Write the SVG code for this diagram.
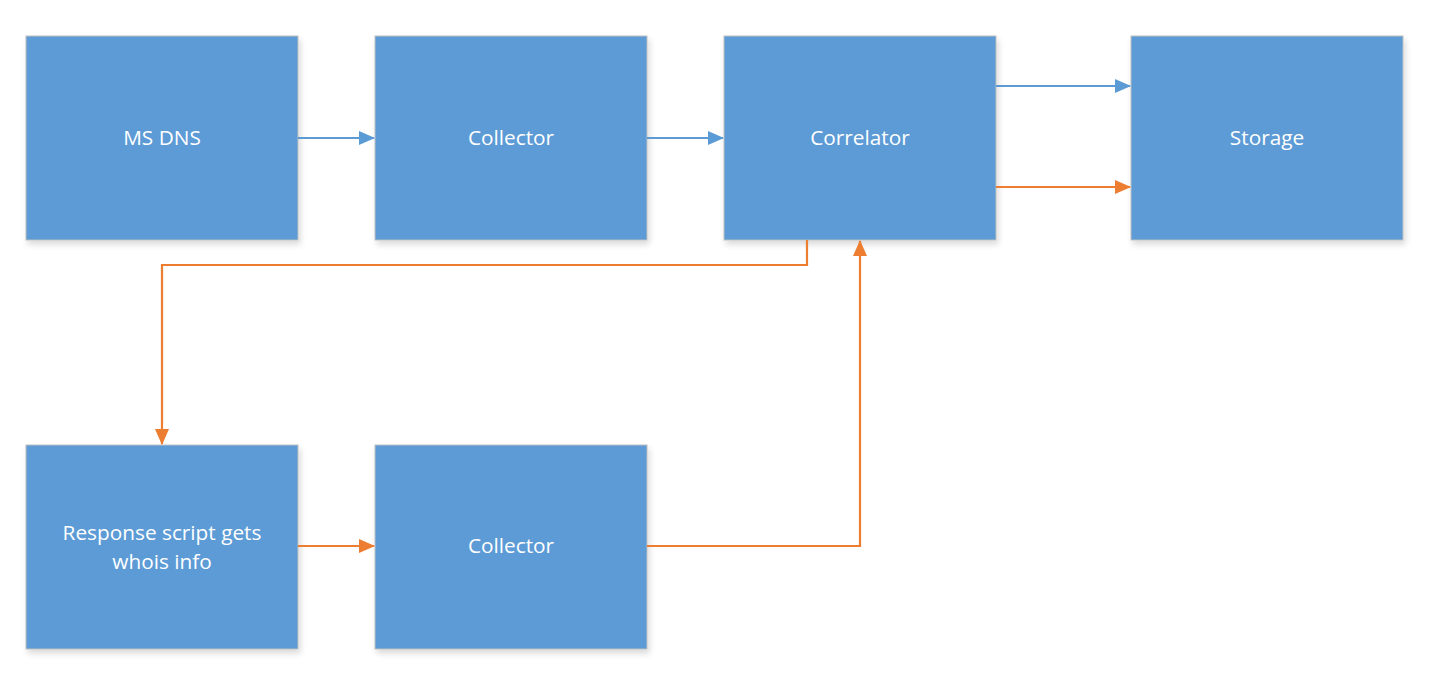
<svg xmlns="http://www.w3.org/2000/svg" width="1432" height="675" viewBox="0 0 1432 675">
<defs>
<filter id="sh" x="-5%" y="-5%" width="115%" height="125%">
<feGaussianBlur in="SourceAlpha" stdDeviation="3"/>
<feOffset dx="2" dy="4" result="b"/>
<feComponentTransfer><feFuncA type="linear" slope="0.15"/></feComponentTransfer>
<feMerge><feMergeNode/><feMergeNode in="SourceGraphic"/></feMerge>
</filter>
<marker id="ab" markerWidth="16" markerHeight="14" refX="15" refY="7" orient="auto" markerUnits="userSpaceOnUse"><path d="M0,0 L16,7 L0,14 Z" fill="#5B9BD5"/></marker>
<marker id="ao" markerWidth="16" markerHeight="14" refX="15" refY="7" orient="auto" markerUnits="userSpaceOnUse"><path d="M0,0 L16,7 L0,14 Z" fill="#ED7D31"/></marker>
</defs>
<style>
.box{fill:#5B9BD5;stroke:#BFBFBF;stroke-width:1;filter:url(#sh)}
.t{fill:#FFFFFF;font-family:"Open Sans","Noto Sans",sans-serif;font-size:20.8px;text-anchor:middle}
.cb{fill:none;stroke:#5B9BD5;stroke-width:2.2;marker-end:url(#ab)}
.co{fill:none;stroke:#ED7D31;stroke-width:2.2;marker-end:url(#ao)}
</style>
<rect width="1432" height="675" fill="#FFFFFF"/>
<g id="msdns"><rect class="box" x="26" y="36" width="272" height="204"/><text class="t" x="162" y="145">MS DNS</text></g>
<g id="collector1"><rect class="box" x="375" y="36" width="272" height="204"/><text class="t" x="511" y="145">Collector</text></g>
<g id="correlator"><rect class="box" x="724" y="36" width="272" height="204"/><text class="t" x="860" y="145">Correlator</text></g>
<g id="storage"><rect class="box" x="1131" y="36" width="272" height="204"/><text class="t" x="1267" y="145">Storage</text></g>
<g id="response"><rect class="box" x="26" y="445" width="272" height="204"/><text class="t" x="162" y="540">Response script gets</text><text class="t" x="162" y="569">whois info</text></g>
<g id="collector2"><rect class="box" x="375" y="445" width="272" height="204"/><text class="t" x="511" y="553">Collector</text></g>
<g id="connectors">
<path class="cb" d="M298,138 H374"/>
<path class="cb" d="M647,138 H723"/>
<path class="cb" d="M996,86 H1130"/>
<path class="co" d="M996,187 H1130"/>
<path class="co" d="M807,240 V265 H162 V444"/>
<path class="co" d="M298,546 H374"/>
<path class="co" d="M647,546 H860 V241"/>
</g>
</svg>
